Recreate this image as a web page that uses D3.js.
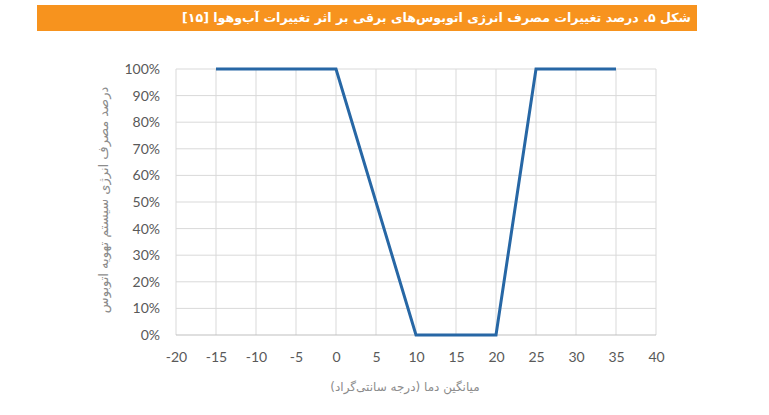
<!DOCTYPE html>
<html>
<head>
<meta charset="utf-8">
<script src="https://cdn.jsdelivr.net/npm/d3@7"></script>
<style>
  body { margin: 0; background: #fff; }
  svg { display: block; }
</style>
</head>
<body>
<svg></svg>
<script>
const titleText = "شکل ۵. درصد تغییرات مصرف انرژی اتوبوس‌های برقی بر اثر تغییرات آب‌وهوا [۱۵]";
const xTitle = "میانگین دما (درجه سانتی‌گراد)";
const yTitle = "درصد مصرف انرژی سیستم تهویه اتوبوس";

// temperature (C) and share of energy use (%)
const temps = [-15, 0, 10, 20, 25, 35];
const usage = [100, 100, 0, 0, 100, 100];
const xTicks = [-20, -15, -10, -5, 0, 5, 10, 15, 20, 25, 30, 35, 40];
const yTicks = [0, 10, 20, 30, 40, 50, 60, 70, 80, 90, 100];

const width = 769;
const height = 415;
const svg = d3.select("svg").attr("width", width).attr("height", height);

const plotLeft = 176, plotRight = 656, plotTop = 69, plotBottom = 335;

const xScale = d3.scaleLinear().domain([-20, 40]).range([plotLeft, plotRight]);
const yScale = d3.scaleLinear().domain([0, 100]).range([plotBottom, plotTop]);

// header bar
svg.append("rect")
  .attr("x", 37).attr("y", 5)
  .attr("width", 660).attr("height", 26)
  .attr("fill", "#f7931e");

svg.append("text")
  .attr("x", 691).attr("y", 22)
  .attr("direction", "rtl")
  .attr("text-anchor", "start")
  .attr("font-family", "DejaVu Sans")
  .attr("font-weight", "bold")
  .attr("font-size", 12.6)
  .attr("fill", "#fff")
  .text(titleText);

// grid
const grid = svg.append("g");
grid.selectAll(".vg")
  .data(xTicks)
  .enter()
  .append("line")
  .attr("x1", (d) => xScale(d)).attr("x2", (d) => xScale(d))
  .attr("y1", plotTop).attr("y2", plotBottom)
  .attr("stroke", "#d9d9d9").attr("stroke-width", 1);

grid.selectAll(".hg")
  .data(yTicks)
  .enter()
  .append("line")
  .attr("x1", plotLeft).attr("x2", plotRight)
  .attr("y1", (d) => yScale(d)).attr("y2", (d) => yScale(d))
  .attr("stroke", (d) => (d === 0 ? "#bfbfbf" : "#d9d9d9"))
  .attr("stroke-width", 1);

// axes (labels only), plain hyphen for negatives like the original
const xAxis = d3.axisBottom(xScale).tickValues(xTicks).tickSize(0).tickPadding(17)
  .tickFormat((d) => String(d));
const yAxis = d3.axisLeft(yScale).tickValues(yTicks).tickSize(0).tickPadding(16)
  .tickFormat((d) => d + "%");

const gx = svg.append("g")
  .attr("transform", "translate(0," + plotBottom + ")")
  .call(xAxis);
const gy = svg.append("g")
  .attr("transform", "translate(" + plotLeft + ",0)")
  .call(yAxis);

[gx, gy].forEach((g) => {
  g.select(".domain").remove();
  g.selectAll("text")
    .attr("font-family", "Lato, Open Sans, sans-serif")
    .attr("font-size", 14)
    .attr("fill", "#595959");
});

// line
const line = d3.line()
  .x((d, i) => xScale(temps[i]))
  .y((d) => yScale(d));

svg.append("path")
  .datum(usage)
  .attr("d", line)
  .attr("fill", "none")
  .attr("stroke", "#2767a5")
  .attr("stroke-width", 3)
  .attr("stroke-linejoin", "miter");

// axis titles
svg.append("text")
  .attr("x", 405).attr("y", 391)
  .attr("direction", "rtl")
  .attr("text-anchor", "middle")
  .attr("font-family", "DejaVu Sans")
  .attr("font-size", 12)
  .attr("fill", "#8c8c8c")
  .text(xTitle);

svg.append("text")
  .attr("transform", "translate(108,200) rotate(-90)")
  .attr("direction", "rtl")
  .attr("text-anchor", "middle")
  .attr("font-family", "DejaVu Sans")
  .attr("font-size", 13)
  .attr("fill", "#8c8c8c")
  .text(yTitle);
</script>
</body>
</html>
